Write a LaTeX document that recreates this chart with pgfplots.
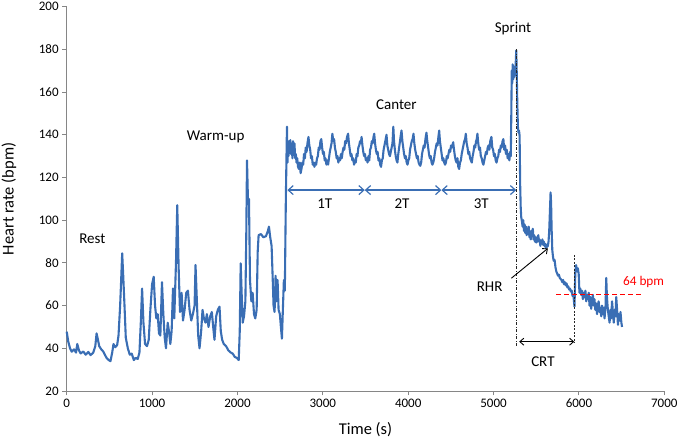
\documentclass[border=0pt]{standalone}
\usepackage{fontspec}
\setmainfont{Carlito}
\usepackage{pgfplots}
\usepackage{pgfplotstable}
\pgfplotsset{compat=1.18}
\usetikzlibrary{arrows.meta}
\definecolor{hr}{RGB}{58,110,180}
\definecolor{axgray}{RGB}{134,134,134}
\pgfplotstableread{
t y
0 47.8
19 43
39 40
58 38.4
86 39.5
109 38
124 42
144 39
163 37.6
195 38.5
222 37
253 38.3
280 36.8
311 38
335 41
350 47
366 44
381 41
405 39.5
428 38.5
447 37
467 35.5
490 34.5
513 34
533 38
548 42
568 40.5
591 41.5
607 46
626 60
638 72
650 84.5
661 75
677 60
692 45
716 40
739 37
762 37.5
786 34.5
809 35.5
832 35
852 38
868 52
883 68
899 52
918 42
941 41
961 44
980 58
1000 70
1019 73.5
1035 60
1050 54
1066 56
1081 47
1097 46
1116 71
1132 56
1148 45
1163 40
1183 52
1198 48
1214 42
1229 48
1245 68
1260 54
1280 80
1295 107
1311 78
1327 57
1346 66
1362 53
1381 58
1400 66
1420 67
1439 58
1459 53
1478 56
1498 60
1509 79
1525 62
1540 46
1556 40
1575 48
1591 58
1607 54
1626 52
1642 56
1661 50
1681 55
1700 57
1716 50
1731 44
1751 55
1770 58
1790 59.5
1805 48
1821 44
1840 42
1867 41
1894 39
1922 38
1945 37.5
1968 36
1992 35.5
2015 34.5
2027 48
2038 79.8
2050 65
2062 52
2077 55
2093 62
2104 95
2112 128
2124 108
2135 110
2147 72
2163 62
2178 66
2194 56
2209 54
2225 58
2237 85
2248 93
2276 93.5
2303 92
2334 92.5
2357 95
2369 97
2384 92
2400 88
2412 74
2423 60
2435 57
2447 74
2458 62
2470 72
2482 58
2497 56
2509 50
2521 44.5
2532 58
2544 72
2555 67
2567 110
2580 143.8
2586 127
2592 136
2598 130
2604 137
2612 132
2620 137.5
2628 131
2636 135
2644 129
2652 137
2660 133
2668 136
2676 129
2684 131
2692 127
2700 129
2710 125
2720 124
2730 127
2740 122
2750 124
2760 127
2770 126
2780 131
2790 129
2800 134
2810 132
2820 136
2832 139
2842 135
2852 133
2862 129
2872 130
2882 126
2892 127
2902 125
2912 127
2922 126
2932 129
2942 130
2952 134
2962 133
2972 137
2982 138
2992 134
3002 131
3012 132
3022 128
3032 129
3042 126
3052 128
3062 126
3072 129
3082 132
3092 134
3102 136
3112 140.5
3122 137
3132 138
3142 134
3152 132
3162 129
3172 130
3182 127
3192 129
3202 128
3212 131
3222 129
3232 132
3242 134
3252 133
3262 137
3272 136
3284 139
3296 140.5
3306 136
3316 133
3326 130
3336 131
3346 128
3356 129
3366 126
3376 128
3386 127
3396 131
3406 130
3416 134
3426 135
3436 137
3446 136
3454 139
3464 135
3474 132
3484 130
3494 131
3504 128
3514 129
3524 127
3534 130
3544 128
3554 133
3564 134
3574 137
3584 136
3594 139
3602 140.5
3612 136
3622 133
3632 131
3642 132
3652 128
3662 129
3672 126
3682 125
3692 128
3702 129
3712 133
3722 135
3732 137
3746 140
3756 135
3766 133
3776 131
3786 130
3796 132
3806 134
3816 136
3826 143.8
3834 137
3844 133
3854 130
3864 128
3874 127
3884 131
3894 134
3904 137
3914 140
3922 142
3932 137
3942 134
3952 131
3962 129
3972 130
3982 127
3992 126
4002 128
4012 129
4022 133
4032 135
4042 137
4052 138
4062 140.5
4072 136
4082 133
4092 131
4102 129
4112 130
4122 127
4132 126
4142 125.5
4152 127
4162 131
4172 133
4182 135
4192 134
4202 138
4214 141
4224 137
4234 134
4244 131
4254 129
4264 130
4274 127
4284 126
4294 127
4304 129
4314 132
4324 134
4334 136
4344 135
4354 139
4363 142
4372 137
4382 134
4392 131
4402 128
4412 129
4422 127
4432 126
4442 127
4452 130
4462 129
4472 131
4482 133
4492 132
4502 135
4512 134
4527 136.5
4537 133
4547 130
4557 128
4567 127
4577 129
4587 125
4597 124
4607 127
4617 128
4627 131
4637 133
4647 135
4657 137
4667 138
4675 140.5
4685 136
4695 134
4705 131
4715 132
4725 129
4735 128
4745 127
4755 130
4765 132
4775 135
4785 134
4795 137
4803 138
4811 140.5
4821 136
4831 133
4841 134
4851 130
4861 129
4871 127
4881 126
4891 128
4901 130
4911 132
4921 131
4931 134
4941 135
4951 133
4961 137
4975 139
4985 134
4995 133
5005 130
5015 131
5025 128
5035 127
5045 129
5055 130
5065 133
5075 132
5085 135
5095 134
5105 137
5115 138
5125 133
5135 135
5145 131
5155 133
5165 129
5175 131
5185 128
5195 132
5202 130
5208 150
5213 170
5218 164
5224 173
5230 166
5236 171
5242 167
5248 172
5254 169
5260 174
5266 179.5
5272 168
5278 155
5285 144
5292 141
5298 142
5305 139.5
5312 116
5318 106
5324 101.5
5332 99.5
5340 97
5348 100
5356 95
5364 98
5372 94
5380 97
5388 93
5396 96
5404 95
5412 97
5420 92
5428 94
5436 91
5444 95
5452 93
5460 96
5468 91
5476 93
5484 90
5492 92
5500 89.5
5508 92
5516 90
5524 93
5532 90
5540 91
5548 88
5556 90
5564 89
5572 91
5580 88.5
5588 90
5596 88
5604 89
5612 87
5620 88.5
5628 87.5
5636 88
5644 90
5652 95
5660 104
5668 113
5674 108
5680 96
5688 86
5696 83
5704 81
5715 81.4
5725 78
5735 76
5745 75
5755 74
5765 74.5
5775 73
5785 72.5
5795 72
5805 71
5815 72
5825 70
5835 71
5845 69.5
5855 70.4
5865 68.5
5875 69
5885 67.5
5895 68
5905 66.6
5915 67
5925 64.5
5935 65
5942 62
5948 59.5
5958 76
5967 79
5977 76
5987 77.5
5997 75
6006 66
6016 68
6026 65
6036 67
6046 63
6056 66
6066 64
6076 67
6085 62
6095 65
6105 63
6115 66
6124 60
6134 64
6143 58.5
6153 62
6163 65
6173 60
6182 63
6192 58
6202 61
6212 56
6221 60
6231 62
6241 57
6251 59
6261 55
6270 60
6280 56
6290 59
6300 54
6312 60
6320 73
6328 64
6339 58
6349 55
6359 52
6369 58
6378 54
6388 62
6398 57
6408 52
6418 58
6428 55
6437 64
6447 58
6457 51
6467 56
6477 53
6487 57
6497 52
6505 50
}\hrdata
\begin{document}
\begin{tikzpicture}
\begin{axis}[
 scale only axis, width=597.6pt, height=384.3pt,
 xmin=0, xmax=7000, ymin=20, ymax=200,
 xtick={0,1000,...,7000}, ytick={20,40,...,200},
 axis x line*=bottom, axis y line*=left,
 axis line style={axgray, line width=0.9pt},
 tick style={axgray, line width=0.9pt},
 tick align=outside, major tick length=4.5pt,
 /pgf/number format/assume math mode=true,
 /pgf/number format/1000 sep={},
 ticklabel style={font=\fontsize{13}{15}\selectfont, text=black},
 xlabel={Time (s)}, ylabel={Heart rate (bpm)},
 label style={font=\fontsize{16.5}{19}\selectfont},
 xlabel style={at={(axis description cs:0.5,-0.1015)}, anchor=center},
 ylabel style={at={(axis description cs:-0.0966,0.5)}, anchor=center},
 clip=false,
]
\coordinate (bl) at (rel axis cs:0,0);
\coordinate (tr) at (rel axis cs:1,1);
\addplot[hr, line width=2.1pt, line join=round] table[x=t,y=y] {\hrdata};
% phase labels
\node[font=\fontsize{15}{18}\selectfont] at (axis cs:300,91.5) {Rest};
\node[font=\fontsize{15}{18}\selectfont] at (axis cs:1744,139.1) {Warm-up};
\node[font=\fontsize{15}{18}\selectfont] at (axis cs:3862,154.3) {Canter};
\node[font=\fontsize{15}{18}\selectfont] at (axis cs:5227,189.8) {Sprint};
% canter arrows
\draw[hr, line width=1.2pt, {Straight Barb[length=5pt,width=9pt]}-{Straight Barb[length=5pt,width=9pt]}] (axis cs:2585,114.1) -- (axis cs:3491,114.1);
\draw[hr, line width=1.2pt, {Straight Barb[length=5pt,width=9pt]}-{Straight Barb[length=5pt,width=9pt]}] (axis cs:3491,114.1) -- (axis cs:4389,114.1);
\draw[hr, line width=1.2pt, {Straight Barb[length=5pt,width=9pt]}-{Straight Barb[length=5pt,width=9pt]}] (axis cs:4389,114.1) -- (axis cs:5266,114.1);
\node[font=\fontsize{15}{18}\selectfont] at (axis cs:3023,107.9) {1T};
\node[font=\fontsize{15}{18}\selectfont] at (axis cs:3928,107.6) {2T};
\node[font=\fontsize{15}{18}\selectfont] at (axis cs:4856,107.6) {3T};
% vertical markers
\draw[black!85, line width=0.9pt, dash pattern=on 3pt off 1.5pt on 1pt off 1.5pt] (axis cs:5273,180) -- (axis cs:5273,41);
\draw[black!85, line width=0.9pt, dash pattern=on 2pt off 1.5pt] (axis cs:5949,83.7) -- (axis cs:5949,42.3);
% CRT
\draw[black, line width=0.9pt, {Straight Barb[length=4pt,width=7pt]}-{Straight Barb[length=4pt,width=7pt]}] (axis cs:5300,43.1) -- (axis cs:5945,43.1);
\node[font=\fontsize{15}{18}\selectfont] at (axis cs:5578,33.7) {CRT};
% RHR
\draw[black, line width=0.9pt, -{Straight Barb[length=4pt,width=7pt]}] (axis cs:5208,72.8) -- (axis cs:5636,86.8);
\node[font=\fontsize{15}{18}\selectfont] at (axis cs:4954,68.9) {RHR};
% 64 bpm line
\draw[red, line width=1pt, dash pattern=on 5pt off 3pt] (axis cs:5734,65.4) -- (axis cs:6729,65.4);
\node[red, font=\fontsize{13.3}{16}\selectfont] at (axis cs:6757,71.2) {64 bpm};
\end{axis}
\pgfresetboundingbox
\path ([xshift=-66.7pt,yshift=-50pt]bl) rectangle ([xshift=15.7pt,yshift=6.7pt]tr);
\end{tikzpicture}
\end{document}
